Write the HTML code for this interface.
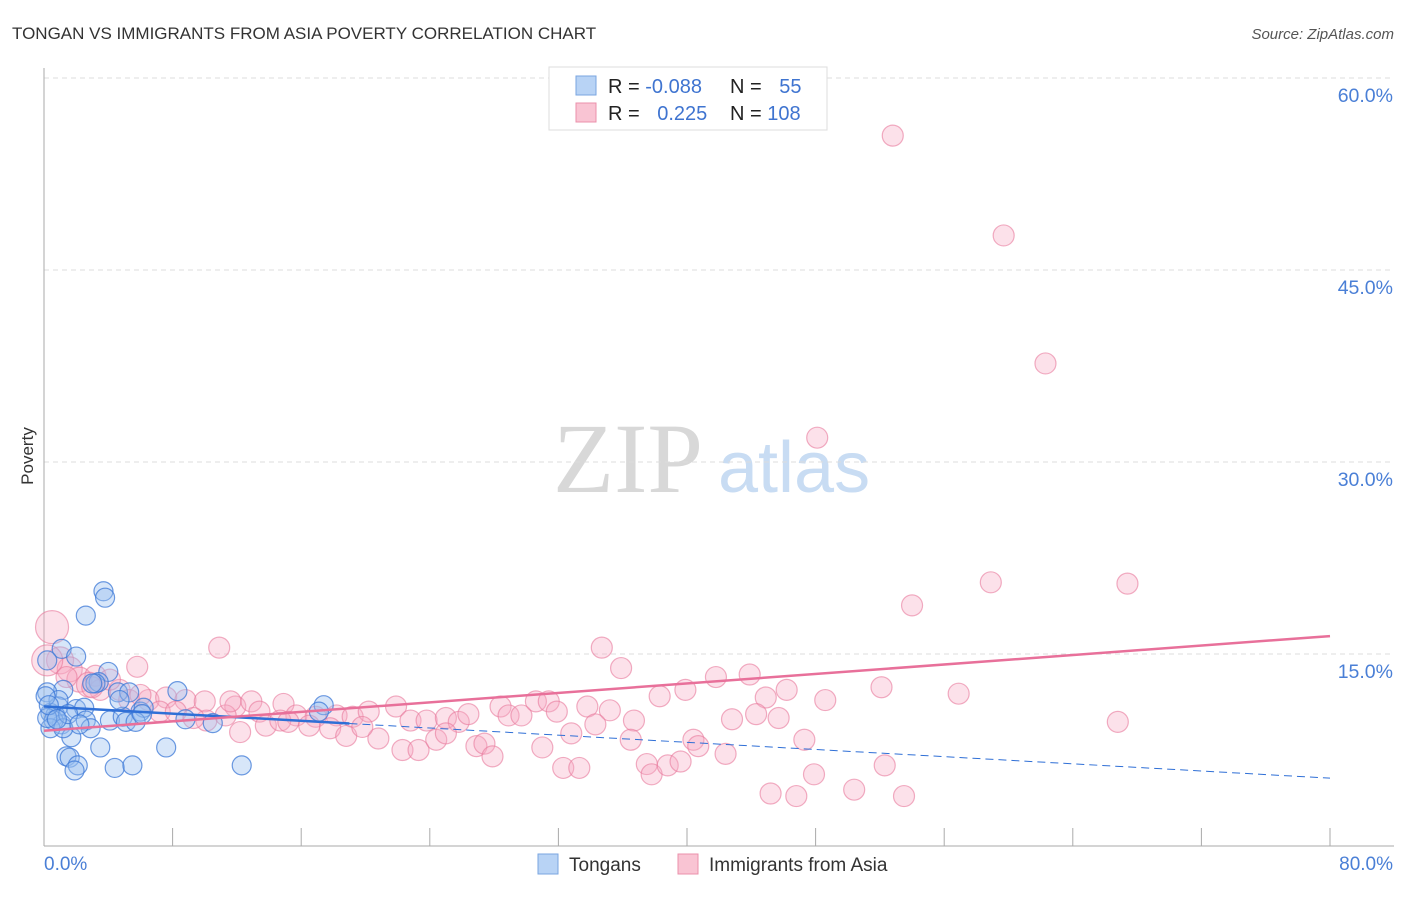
<!DOCTYPE html>
<html><head><meta charset="utf-8"><style>
body{margin:0;background:#fff;font-family:"Liberation Sans",sans-serif;}
</style></head><body>
<svg id="chart" width="1406" height="892" xmlns="http://www.w3.org/2000/svg" font-family="Liberation Sans, sans-serif">
<text x="12" y="39" font-size="17" fill="#333">TONGAN VS IMMIGRANTS FROM ASIA POVERTY CORRELATION CHART</text>
<text x="1394" y="39" font-size="15" fill="#555" font-style="italic" text-anchor="end">Source: ZipAtlas.com</text>
<g>
<text x="553" y="492" font-size="100" style="font-family:'Liberation Serif',serif" fill="#d8d8d8">ZIP</text>
<text x="718" y="492" font-size="72" fill="#c8dcf3">atlas</text>
</g>
<g id="grid"></g>
<g id="axes"></g>
<g id="pinkPts"></g>
<g id="bluePts"></g>
<g id="trends"></g>
<text transform="translate(33,456) rotate(-90)" font-size="17" fill="#333" text-anchor="middle">Poverty</text>
<g>
<rect x="549" y="67" width="278" height="63" fill="#fff" stroke="#ddd"/>
<rect x="576" y="76" width="20" height="19" fill="#b8d3f5" stroke="#7aa6e0"/>
<rect x="576" y="103" width="20" height="19" fill="#f9c4d3" stroke="#eb90ab"/>
<text x="608" y="93" font-size="20" fill="#222">R = <tspan fill="#3f74d0">-0.088</tspan></text>
<text x="730" y="93" font-size="20" fill="#222">N = <tspan fill="#3f74d0" dx="12">55</tspan></text>
<text x="608" y="120" font-size="20" fill="#222">R = <tspan fill="#3f74d0" dx="12">0.225</tspan></text>
<text x="730" y="120" font-size="20" fill="#222">N = <tspan fill="#3f74d0">108</tspan></text>
</g>
<g>
<rect x="538" y="854" width="20" height="20" fill="#b8d3f5" stroke="#7aa6e0"/>
<text x="569" y="871" font-size="19" fill="#333">Tongans</text>
<rect x="678" y="854" width="20" height="20" fill="#f9c4d3" stroke="#eb90ab"/>
<text x="709" y="871" font-size="19" fill="#333">Immigrants from Asia</text>
</g>
</svg>
<script>
const yTicks=[15,30,45,60];
const yTickLabels=["15.0%","30.0%","45.0%","60.0%"];
const xTicks=[0,8,16,24,32,40,48,56,64,72,80];
const xEndLabels=["0.0%","80.0%"];
const blueX=[3.7,3.8,2.6,1.1,2.0,0.2,4.0,1.2,0.2,3.4,4.6,8.3,17.4,0.9,2.0,2.5,0.4,0.7,1.1,2.6,2.9,1.7,4.1,4.9,5.1,6.0,6.2,5.7,8.8,10.5,3.5,7.6,1.4,1.6,2.1,1.9,4.4,5.5,12.3,0.6,0.9,3.2,5.3,0.1,0.4,6.1,17.1,1.2,4.7,3.0,0.2,0.3,1.5,2.2,0.8];
const blueY=[19.9,19.4,18.0,15.4,14.8,14.5,13.6,12.2,12.0,12.8,12.0,12.1,11.0,10.9,10.7,10.8,10.4,10.2,9.5,9.8,9.2,8.5,9.8,10.1,9.7,10.5,10.8,9.7,9.9,9.6,7.7,7.7,7.0,6.9,6.3,5.9,6.1,6.3,6.3,9.8,11.4,12.7,12.0,11.7,9.2,10.3,10.5,9.2,11.4,12.7,10.0,11.0,10.3,9.5,9.9];
const pinkX=[52.8,59.7,62.3,48.1,58.9,67.4,54.0,0.5,10.9,34.7,5.8,35.9,43.9,41.8,52.1,46.2,38.3,56.9,39.9,44.9,48.6,1.0,1.6,2.2,3.2,4.7,6.5,7.6,8.8,10.0,11.9,12.9,13.4,14.9,15.7,16.9,18.2,19.2,20.2,21.9,22.8,23.8,25.0,25.8,26.4,28.4,28.9,29.7,30.6,31.4,31.9,33.8,35.2,34.3,36.7,42.8,44.3,45.7,66.8,13.8,17.8,18.8,20.8,22.3,23.3,24.4,25.0,26.9,27.4,27.9,31.0,32.8,36.5,40.4,40.7,42.4,47.3,37.5,37.8,38.8,39.6,32.3,33.3,45.2,46.8,47.9,50.4,52.3,53.5,10.1,7.2,11.3,12.2,14.7,16.5,11.6,8.2,5.3,3.5,0.2,4.1,2.8,6.0,9.3,15.2,19.8,1.4,3.0];
const pinkY=[55.5,47.7,37.7,31.9,20.6,20.5,18.8,17.1,15.5,15.5,14.0,13.9,13.4,13.2,12.4,12.2,11.7,11.9,12.2,11.6,11.4,14.5,13.8,13.0,13.3,12.2,11.4,11.6,11.4,11.3,10.9,11.3,10.5,11.1,10.2,10.1,10.2,10.1,10.5,10.9,9.8,9.8,10.0,9.7,10.3,10.9,10.2,10.2,11.3,11.3,10.5,10.9,10.6,9.5,9.8,9.9,10.3,10.0,9.7,9.4,9.2,8.6,8.4,7.5,7.5,8.3,8.8,7.8,8.0,7.0,7.7,8.8,8.3,8.3,7.8,7.2,8.3,6.4,5.6,6.3,6.6,6.1,6.1,4.1,3.9,5.6,4.4,6.3,3.9,9.8,10.5,10.2,8.9,9.8,9.4,11.3,10.5,11.4,12.2,14.5,13.0,12.6,11.8,10.0,9.7,9.3,13.2,12.4];
const pinkSize=[11,11,11,11,11,11,11,17,11,11,11,11,11,11,11,11,11,11,11,11,11,14,13,13,11,11,11,11,11,11,11,11,11,11,11,11,11,11,11,11,11,11,11,11,11,11,11,11,11,11,11,11,11,11,11,11,11,11,11,11,11,11,11,11,11,11,11,11,11,11,11,11,11,11,11,11,11,11,11,11,11,11,11,11,11,11,11,11,11,11,11,11,11,11,11,11,11,11,11,16,11,13,11,11,11,11,11,11];
const blueTrend=[10.9,5.3]; const blueSolidEnd=19;
const pinkTrend=[9.0,16.4];
const X0=44,X1=1330,Y0=846,PPY=192/15;
const sx=v=>X0+(v/80)*(X1-X0), sy=v=>Y0-v*PPY;
const NS="http://www.w3.org/2000/svg";
function mk(tag,attrs,parent){const e=document.createElementNS(NS,tag);for(const k in attrs)e.setAttribute(k,attrs[k]);parent.appendChild(e);return e;}
const grid=document.getElementById('grid'),axes=document.getElementById('axes');
yTicks.forEach((t,i)=>{
 const l=mk('line',{x1:X0,x2:1394,y1:sy(t),y2:sy(t),stroke:'#ddd','stroke-dasharray':'5,4'},grid);
 
 
 const tx=mk('text',{x:1393,y:sy(t)+24,'font-size':19.5,fill:'#4a7fd6','text-anchor':'end'},axes);
 tx.textContent=yTickLabels[i];
 
 
});
const ya=mk('line',{x1:X0,x2:X0,y1:68,y2:Y0,stroke:'#aaa'},axes);


const xa=mk('line',{x1:X0,x2:1394,y1:Y0,y2:Y0,stroke:'#aaa'},axes);


xTicks.forEach(t=>{const l=mk('line',{x1:sx(t),x2:sx(t),y1:828,y2:Y0,stroke:'#aaa'},axes);
 
 });
const xl0=mk('text',{x:44,y:870,'font-size':19,fill:'#4a7fd6'},axes);xl0.textContent=xEndLabels[0];


const xl1=mk('text',{x:1393,y:870,'font-size':19,fill:'#4a7fd6','text-anchor':'end'},axes);xl1.textContent=xEndLabels[1];


const pg=document.getElementById('pinkPts');
pinkX.forEach((x,i)=>{const c=mk('circle',{cx:sx(x),cy:sy(pinkY[i]),r:pinkSize[i]-0.5,fill:'rgba(247,170,195,0.35)',stroke:'rgba(232,120,155,0.6)','stroke-width':1.2},pg);
 
 });
const bg=document.getElementById('bluePts');
blueX.forEach((x,i)=>{const c=mk('circle',{cx:sx(x),cy:sy(blueY[i]),r:9.5,fill:'rgba(150,190,240,0.38)',stroke:'rgba(60,120,215,0.75)','stroke-width':1.2},bg);
 
 });
const tg=document.getElementById('trends');
const by=x=>blueTrend[0]+(blueTrend[1]-blueTrend[0])*x/80;
const b1=mk('line',{x1:sx(0),y1:sy(by(0)),x2:sx(blueSolidEnd),y2:sy(by(blueSolidEnd)),stroke:'#2f6fd6','stroke-width':2.5},tg);


const b2=mk('line',{x1:sx(blueSolidEnd),y1:sy(by(blueSolidEnd)),x2:sx(80),y2:sy(by(80)),stroke:'#2f6fd6','stroke-width':1,'stroke-dasharray':'8,5'},tg);


const p1=mk('line',{x1:sx(0),y1:sy(pinkTrend[0]),x2:sx(80),y2:sy(pinkTrend[1]),stroke:'#e8709a','stroke-width':2.5},tg);


</script>
</body></html>
